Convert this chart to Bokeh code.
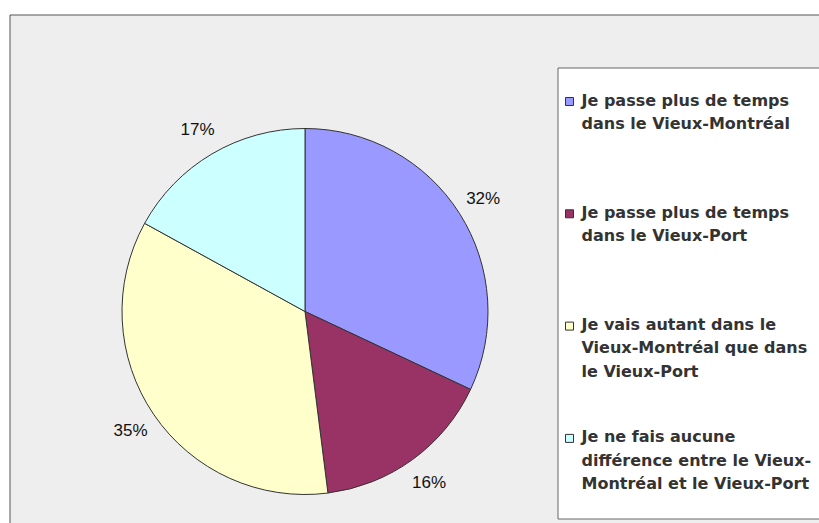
import numpy as np
from bokeh.plotting import figure
from bokeh.models import Range1d, ColumnDataSource
from bokeh.core.properties import value
from bokeh.embed import file_html
from bokeh.resources import INLINE

# ---- data ----
categories = [
    "Je passe plus de temps\ndans le Vieux-Montréal",
    "Je passe plus de temps\ndans le Vieux-Port",
    "Je vais autant dans le\nVieux-Montréal que dans\nle Vieux-Port",
    "Je ne fais aucune\ndifférence entre le Vieux-\nMontréal et le Vieux-Port",
]
percentages = [32, 16, 35, 17]
colors = ["#9999FF", "#993366", "#FFFFCC", "#CCFFFF"]

# ---- geometry (page pixel coordinates, y negated) ----
W, H = 819, 523
p = figure(width=W, height=H, output_backend="svg", toolbar_location=None,
           x_range=Range1d(0, W), y_range=Range1d(-H, 0),
           x_axis_type=None, y_axis_type=None, min_border=0,
           background_fill_color="white", border_fill_color="white",
           outline_line_color=None)
p.grid.visible = False

# chart area background with border
p.quad(left=[9.5], right=[900], top=[-14.5], bottom=[-600],
       fill_color="#EEEEEE", line_color="#555555", line_width=1)

# pie
cx, cy, R = 304.5, -311.0, 183.0
vals = np.array(percentages, dtype=float)
frac = vals / vals.sum()
cum = np.concatenate([[0], np.cumsum(frac)])
starts = np.pi / 2 - 2 * np.pi * cum[1:]
ends = np.pi / 2 - 2 * np.pi * cum[:-1]
src = ColumnDataSource(dict(x=[cx] * 4, y=[cy] * 4, start=starts, end=ends,
                            color=colors))
p.wedge(x="x", y="y", radius=R, start_angle="start", end_angle="end",
        fill_color="color", line_color="#333333", line_width=1, source=src)

# percentage labels
mid = np.pi / 2 - 2 * np.pi * (cum[:-1] + frac / 2)
lr = 211.0
p.text(x=cx + lr * np.cos(mid), y=cy + lr * np.sin(mid),
       text=[f"{v}%" for v in percentages],
       text_font=value("Liberation Sans"), text_font_size=value("17px"),
       text_color="#111111", text_align="center", text_baseline="middle")

# legend box
p.quad(left=[557.5], right=[900], top=[-67.5], bottom=[-518.5],
       fill_color="white", line_color="#666666", line_width=1)

first = 101.0
step = 112.3
ys = [-(first + step * i) for i in range(len(categories))]
p.rect(x=[569] * 4, y=ys, width=8, height=8, fill_color=colors,
       line_color="#333333", line_width=1)
p.text(x=[581] * 4, y=[y + 11.0 for y in ys], text=categories,
       text_font=value("DejaVu Sans"), text_font_style="bold",
       text_font_size=value("16px"), text_color="#333333",
       text_align="left", text_baseline="top", text_line_height=1.23)

open("out.html", "w").write(file_html(p, INLINE))
